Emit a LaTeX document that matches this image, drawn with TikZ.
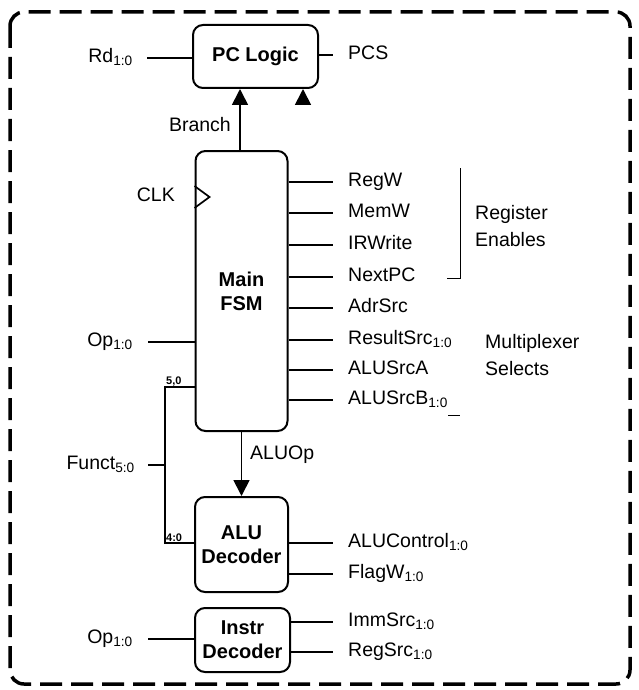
\documentclass[tikz,border=0pt]{standalone}
\usepackage{fontspec}
\setmainfont{Liberation Sans}
\usetikzlibrary{arrows.meta}
\newcommand{\bits}[1]{\textsubscript{#1}}

\begin{document}
\begin{tikzpicture}[x=1pt, y=-1pt, >={Triangle[length=16pt,width=16pt]},
    blk/.style={draw, line width=2pt, rounded corners=10pt, align=center, inner sep=0pt,
        font=\fontsize{20}{24}\selectfont\bfseries},
    sig/.style={anchor=west, inner sep=0pt, text height=13pt, text depth=4pt,
        font=\fontsize{19.5}{22}\selectfont},
    note/.style={anchor=west, inner sep=0pt, align=left,
        font=\fontsize{19.5}{27}\selectfont},
    slice/.style={inner sep=1pt, font=\fontsize{11}{11}\selectfont\bfseries},
    wire/.style={line width=1.7pt}]

    \useasboundingbox (0,0) rectangle (639,690);

    % control unit frame
    \draw[line width=3.5pt, dash pattern=on 22pt off 9pt, rounded corners=14pt] (10,12) rectangle (630,684);

    % blocks
    \node[blk, minimum width=125pt, minimum height=63pt] (pc) at (255.5,56.5) {PC Logic};
    \node[blk, minimum width=92pt, minimum height=280pt] (fsm) at (241.5,291) {Main\\FSM};
    \node[blk, minimum width=93pt, minimum height=95pt] (aludec) at (241.5,544.5) {ALU\\Decoder};
    \node[blk, minimum width=95pt, minimum height=64pt] (instrdec) at (242.5,640) {Instr\\Decoder};

    % PC Logic
    \node[sig, anchor=east] (rd) at (133,58) {Rd\bits{1:0}};
    \draw[wire] ([xshift=14pt]rd.east) -- (pc.west |- rd.east);
    \node[sig] (pcs) at (348,55) {PCS};
    \draw[wire] (pc.east |- pcs.west) -- ([xshift=-15pt]pcs.west);
    \coordinate (brx) at (240,0);
    \draw[wire, ->] (fsm.north -| brx) -- (pc.south -| brx);
    \node[sig, anchor=east] (branch) at (231,127) {Branch};
    \coordinate (pcen) at (303,104.5);
    \draw[wire, ->] (pcen) -- (pc.south -| pcen);

    % Main FSM
    \node[sig, anchor=east] (clk) at (175,197) {CLK};
    \draw[wire] ([yshift=11pt]fsm.west |- clk.east) -- ([xshift=15pt]fsm.west |- clk.east)
        -- ([yshift=-11pt]fsm.west |- clk.east);
    \node[sig, anchor=east] (op) at (133,342) {Op\bits{1:0}};
    \draw[wire] ([xshift=15pt]op.east) -- (op.east -| fsm.west);

    \foreach \name/\y/\txt in {regw/182/RegW, memw/213/MemW, irwrite/245/IRWrite,
        nextpc/277/NextPC, adrsrc/308/AdrSrc, resultsrc/340/ResultSrc\bits{1:0},
        alusrca/370/ALUSrcA, alusrcb/400/ALUSrcB\bits{1:0}} {
        \node[sig] (\name) at (348,\y) {\txt};
        \draw[wire] (fsm.east |- \name.west) -- ([xshift=-15pt]\name.west);
    }

    \draw[line width=0.8pt] (460,168) -- (460,278) -- (447,278);
    \node[note] (regen) at (475,226) {Register\\Enables};
    \draw[line width=0.8pt] (448,415) -- (460,415);
    \node[note] (muxsel) at (485,355) {Multiplexer\\Selects};

    % ALU Decoder
    \draw[wire, ->] (fsm.south) -- (aludec.north);
    \node[sig] (aluop) at (250,455) {ALUOp};
    \node[sig, anchor=east] (funct) at (135,465) {Funct\bits{5:0}};
    \coordinate (fj) at (165,465);
    \coordinate (ftop) at (165,387);
    \coordinate (fbot) at (165,543);
    \draw[wire] ([xshift=13pt]funct.east) -- (fj);
    \draw[wire] (fsm.west |- ftop) -- (ftop) -- (fbot) -- (aludec.west |- fbot);
    \node[slice, above right] (b50) at (ftop) {5,0};
    \node[slice, above right] (b40) at (fbot) {4:0};

    \foreach \name/\y/\txt in {alucontrol/543/ALUControl\bits{1:0}, flagw/574/FlagW\bits{1:0}} {
        \node[sig] (\name) at (348,\y) {\txt};
        \draw[wire] (aludec.east |- \name.west) -- ([xshift=-15pt]\name.west);
    }

    % Instr Decoder
    \node[sig, anchor=east] (opb) at (133,639) {Op\bits{1:0}};
    \draw[wire] ([xshift=15pt]opb.east) -- (opb.east -| instrdec.west);
    \foreach \name/\y/\txt in {immsrc/622/ImmSrc\bits{1:0}, regsrc/652/RegSrc\bits{1:0}} {
        \node[sig] (\name) at (348,\y) {\txt};
        \draw[wire] (instrdec.east |- \name.west) -- ([xshift=-15pt]\name.west);
    }
\end{tikzpicture}
\end{document}
